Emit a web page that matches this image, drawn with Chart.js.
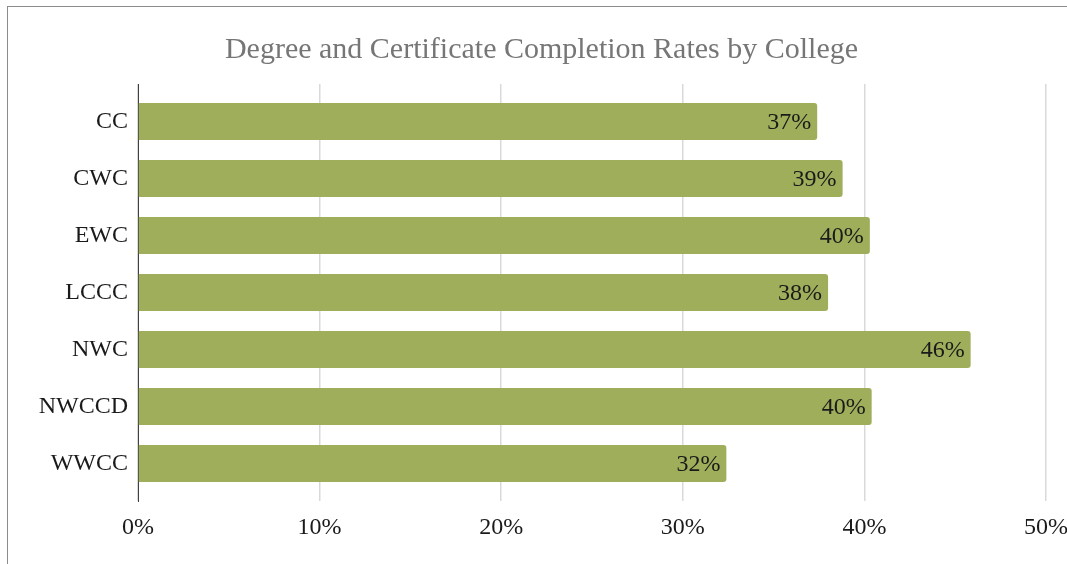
<!DOCTYPE html>
<html>
<head>
<meta charset="utf-8">
<script src="https://cdn.jsdelivr.net/npm/chart.js@4.4.0/dist/chart.umd.min.js"></script>
<style>
  html, body { margin: 0; padding: 0; background: #fff; overflow: hidden; }
  #frame { position: absolute; left: 7px; top: 6px; width: 1200px; height: 700px; border: 1px solid #8c8c8c; box-sizing: border-box; }
  #wrap { position: absolute; left: 0; top: 0; width: 1100px; height: 564px; }
</style>
</head>
<body>
<div id="frame"></div>
<div id="wrap"><canvas id="c"></canvas></div>
<script>
const categories = ["CC", "CWC", "EWC", "LCCC", "NWC", "NWCCD", "WWCC"];
const rates = [37.4, 38.8, 40.3, 38.0, 45.85, 40.4, 32.4];
const xTicks = [0, 10, 20, 30, 40, 50];

const serif = "'Liberation Serif', 'Times New Roman', serif";

const labelPlugin = {
  id: 'barLabels',
  afterDatasetsDraw(chart) {
    const ctx = chart.ctx;
    const meta = chart.getDatasetMeta(0);
    ctx.save();
    ctx.font = "24px " + serif;
    ctx.fillStyle = '#1a1a1a';
    ctx.textAlign = 'right';
    ctx.textBaseline = 'middle';
    meta.data.forEach((el, i) => {
      const txt = Math.round(rates[i]) + '%';
      ctx.fillText(txt, el.x - 6, el.y + 1);
    });
    ctx.restore();
  }
};

new Chart(document.getElementById('c'), {
  type: 'bar',
  data: {
    datasets: [{
      data: rates.map((v, i) => ({ x: v, y: i })),
      backgroundColor: '#9FAE5B',
      borderWidth: 0,
      borderRadius: 3,
      borderSkipped: 'start',
      barPercentage: 0.65,
      categoryPercentage: 1
    }]
  },
  options: {
    indexAxis: 'y',
    responsive: true,
    maintainAspectRatio: false,
    animation: false,
    layout: { padding: { left: 37, right: 54, top: 0, bottom: 0 } },
    plugins: {
      legend: { display: false },
      tooltip: { enabled: false },
      title: {
        display: true,
        text: 'Degree and Certificate Completion Rates by College',
        color: '#767676',
        font: { family: serif, size: 30, weight: 'normal' },
        padding: { top: 32, bottom: 16 }
      }
    },
    scales: {
      x: {
        type: 'linear',
        min: 0,
        max: 50,
        afterBuildTicks(scale) { scale.ticks = xTicks.map(v => ({ value: v })); },
        afterFit(scale) { scale.height = 63; },
        grid: { color: '#d9d9d9', lineWidth: 1.5, drawTicks: false },
        border: { display: false },
        ticks: {
          padding: 12,
          color: '#1a1a1a',
          font: { family: serif, size: 24 },
          callback: v => v + '%'
        }
      },
      y: {
        type: 'linear',
        reverse: true,
        offset: false,
        bounds: 'data',
        min: -0.66,
        max: 6.66,
        afterBuildTicks(scale) { scale.ticks = categories.map((_, i) => ({ value: i })); },
        afterFit(scale) { scale.width = 101; },
        grid: { display: false, drawTicks: false },
        border: { display: true, color: '#404040', width: 1 },
        ticks: {
          padding: 10,
          color: '#1a1a1a',
          font: { family: serif, size: 24 },
          callback: v => categories[v] !== undefined ? categories[v] : ''
        }
      }
    }
  },
  plugins: [labelPlugin]
});
</script>
</body>
</html>
